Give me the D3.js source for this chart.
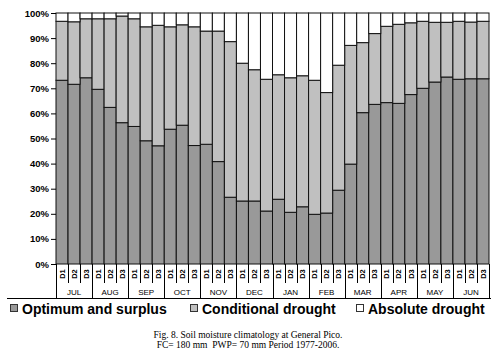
<!DOCTYPE html>
<html><head><meta charset="utf-8">
<script src="https://cdn.jsdelivr.net/npm/d3@7"></script>
<style>body{margin:0;background:#fff}svg{display:block}</style>
</head><body>
<script>
const months = ["JUL","AUG","SEP","OCT","NOV","DEC","JAN","FEB","MAR","APR","MAY","JUN"];
const dekads = ["D1","D2","D3"];
const optimum = [73.2,71.6,74.2,69.6,62.4,56.3,54.8,49.1,47.1,53.7,55.3,47.2,47.7,40.8,26.6,25.1,25.1,21.1,25.8,20.6,22.8,19.8,20.3,29.4,39.8,60.3,63.6,64.3,64.0,67.5,70.0,72.5,74.5,73.6,73.8,73.8];
const conditional = [23.5,24.9,23.5,28.1,35.3,42.5,42.9,45.4,48.0,40.8,40.0,47.3,45.1,52.0,62.0,54.9,52.3,52.5,49.6,53.6,52.2,53.4,48.0,49.8,47.3,27.9,28.2,30.4,31.5,28.6,26.7,23.8,21.8,23.1,22.6,22.9];
const absolute = [3.3,3.5,2.3,2.3,2.3,1.2,2.3,5.5,4.9,5.5,4.7,5.5,7.2,7.2,11.4,20.0,22.6,26.4,24.6,25.8,25.0,26.8,31.7,20.8,12.9,11.8,8.2,5.3,4.5,3.9,3.3,3.7,3.7,3.3,3.6,3.3];
const yTicks = [0,10,20,30,40,50,60,70,80,90,100];
const seriesNames = ["Optimum and surplus","Conditional drought","Absolute drought"];
const seriesColors = ["#999999","#c0c0c0","#ffffff"];

const W = 498, H = 353;
const L = 56, R = 489, T = 13, B = 264;
const svg = d3.select("body").append("svg").attr("width", W).attr("height", H);

const cats = [];
months.forEach(m => dekads.forEach(d => cats.push(m + "-" + d)));
const rows = cats.map((c, i) => ({cat: c, opt: optimum[i], cond: conditional[i], abs: absolute[i]}));
const keys = ["opt","cond","abs"];
const stacked = d3.stack().keys(keys)(rows);

const x = d3.scaleBand().domain(cats).range([L, R]).padding(0);
const y = d3.scaleLinear().domain([0, 100]).range([B, T]);

const g = svg.append("g");
g.selectAll("g.s").data(stacked).join("g").attr("fill", (d, i) => seriesColors[i])
  .selectAll("rect").data(d => d).join("rect")
  .attr("x", d => x(d.data.cat)).attr("width", x.bandwidth())
  .attr("y", d => y(d[1])).attr("height", d => y(d[0]) - y(d[1]))
  .attr("stroke", "#111").attr("stroke-width", 1);

// y axis
const ya = svg.append("g").attr("transform", `translate(${L},0)`)
  .call(d3.axisLeft(y).tickValues(yTicks).tickFormat(d => d + "%").tickSize(5).tickPadding(2));
ya.select(".domain").remove();
ya.selectAll("line").attr("stroke", "#000");
ya.selectAll("text").attr("font-family", "Liberation Sans, Arial, sans-serif")
  .attr("font-size", 9.5).attr("font-weight", "bold").attr("fill", "#000");

// category table
const cg = svg.append("g").attr("stroke", "#000").attr("stroke-width", 1);
cats.forEach((c, i) => {
  const xx = Math.round(x(c)) + 0.5;
  const isMonth = i % 3 === 0;
  cg.append("line").attr("x1", xx).attr("x2", xx).attr("y1", B).attr("y2", isMonth ? 298 : 283);
});
cg.append("line").attr("x1", R + 0.5).attr("x2", R + 0.5).attr("y1", B).attr("y2", 298);
cg.append("line").attr("x1", 7).attr("x2", 491).attr("y1", 298.5).attr("y2", 298.5);

const lab = svg.append("g").attr("font-family", "Liberation Sans, Arial, sans-serif").attr("fill", "#000");
cats.forEach((c, i) => {
  const cx = x(c) + x.bandwidth() / 2;
  lab.append("text").attr("transform", `translate(${cx + 2.7},274) rotate(-90)`)
    .attr("text-anchor", "middle").attr("font-size", 7.5).attr("font-weight", "bold")
    .text(dekads[i % 3]);
});
months.forEach((m, k) => {
  const cx = x(cats[k * 3]) + x.bandwidth() * 1.5;
  lab.append("text").attr("x", cx).attr("y", 294.5).attr("text-anchor", "middle")
    .attr("font-size", 8).text(m);
});

// legend
const legX = [10, 190, 356];
const leg = svg.append("g");
seriesNames.forEach((n, i) => {
  leg.append("rect").attr("x", legX[i] + 0.5).attr("y", 304.5).attr("width", 7).attr("height", 7)
    .attr("fill", seriesColors[i]).attr("stroke", "#333").attr("stroke-width", 1);
  leg.append("text").attr("x", legX[i] + 12).attr("y", 314)
    .attr("font-family", "Liberation Sans, Arial, sans-serif").attr("font-weight", "bold")
    .attr("font-size", 14).attr("fill", "#000").text(n);
});

// caption
const cap = svg.append("g").attr("font-family", "Liberation Serif, Times New Roman, serif")
  .attr("font-size", 9.5).attr("fill", "#000").attr("text-anchor", "middle");
cap.append("text").attr("x", 248).attr("y", 338).text("Fig. 8. Soil moisture climatology at General Pico.");
cap.append("text").attr("x", 248).attr("y", 348).attr("xml:space", "preserve").text("FC= 180 mm  PWP= 70 mm Period 1977-2006.");
</script>
</body></html>
